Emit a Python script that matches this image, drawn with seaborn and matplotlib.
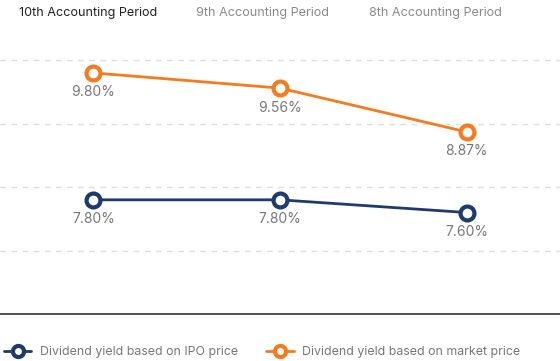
import seaborn as sns
import matplotlib.pyplot as plt
from matplotlib.lines import Line2D
import pandas as pd

periods = ['10th Accounting Period', '9th Accounting Period', '8th Accounting Period']
ipo_yield = [7.80, 7.80, 7.60]
market_yield = [9.80, 9.56, 8.87]
series_names = ['Dividend yield based on IPO price', 'Dividend yield based on market price']
series_colors = ['#1f3a6b', '#f47b20']

df = pd.DataFrame({
    'x': list(range(3)) * 2,
    'value': ipo_yield + market_yield,
    'series': [series_names[0]] * 3 + [series_names[1]] * 3,
})

sns.set_style('white')
plt.rcParams['font.family'] = ['Inter', 'DejaVu Sans']

fig = plt.figure(figsize=(5.6, 3.61), dpi=100)
ax = fig.add_axes([0, 0.130, 1, 0.756])

sns.lineplot(data=df, x='x', y='value', hue='series', palette=series_colors,
             marker='o', markersize=10, markerfacecolor='white', markeredgewidth=3,
             linewidth=2, legend=False, ax=ax)
for line, c in zip(ax.get_lines(), series_colors):
    line.set_markeredgecolor(c)

# value labels under each point
for vals in (ipo_yield, market_yield):
    for i, v in enumerate(vals):
        ax.annotate(f'{v:.2f}%', (i, v), xytext=(0, -9), textcoords='offset points',
                    ha='center', va='top', fontsize=10, color='#777777')

ax.set_xlim(-0.5, 2.5)
ax.set_ylim(6, 10.3)
ax.set_yticks([7, 8, 9, 10])
ax.yaxis.grid(True, color='#dddddd', linestyle=(0, (4, 4)), linewidth=1)
ax.set_xticks([])
ax.tick_params(left=False, labelleft=False)
ax.set_xlabel('')
ax.set_ylabel('')
for s in ['top', 'left', 'right']:
    ax.spines[s].set_visible(False)
ax.spines['bottom'].set_color('#333333')
ax.spines['bottom'].set_linewidth(1.2)

# period tabs at top
tab_x = [88, 262, 435]
tab_colors = ['#222222', '#8a8a8a', '#8a8a8a']
for label, px, c in zip(periods, tab_x, tab_colors):
    fig.text(px / 560, 1 - 13 / 361, label, ha='center', va='center', fontsize=9.1, color=c)

handles = [Line2D([], [], color=c, marker='o', markersize=8, markerfacecolor='white',
                  markeredgecolor=c, markeredgewidth=3, linewidth=2) for c in series_colors]
fig.legend(handles, series_names, loc='center left', bbox_to_anchor=(4 / 560, 1 - 352 / 361),
           ncol=2, frameon=False, fontsize=8.9, labelcolor='#777777', handlelength=2.2,
           handletextpad=0.7, columnspacing=2.3, borderpad=0, borderaxespad=0)

plt.savefig('out.png', dpi=100)
plt.close()
